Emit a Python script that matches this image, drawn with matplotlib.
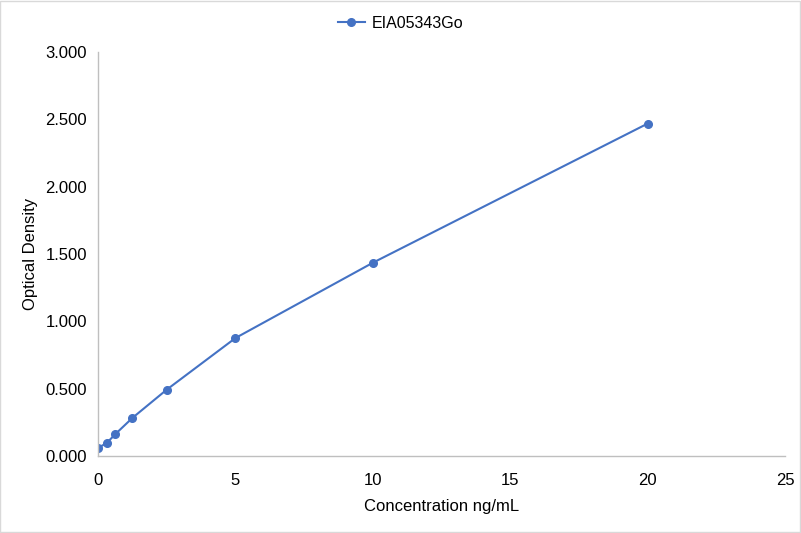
import matplotlib
matplotlib.use("Agg")
import matplotlib.pyplot as plt
from matplotlib.patches import Rectangle

conc = [0, 0.3125, 0.625, 1.25, 2.5, 5, 10, 20]
od = [0.060, 0.096, 0.162, 0.283, 0.493, 0.876, 1.435, 2.468]
series_name = "EIA05343Go"
x_ticks = [0, 5, 10, 15, 20, 25]
y_ticks = [0.0, 0.5, 1.0, 1.5, 2.0, 2.5, 3.0]

plt.rcParams['font.family'] = ['Liberation Sans', 'DejaVu Sans']
fig = plt.figure(figsize=(8.01, 5.33), dpi=100)
fig.patches.append(Rectangle((0.0006, 0.001), 0.9985, 0.997, transform=fig.transFigure,
                             fill=False, edgecolor='#D9D9D9', lw=1))
ax = fig.add_axes([0.1225, 0.1445, 0.8575, 0.758])
color = '#4472C4'
ax.plot(conc, od, color=color, lw=1.5, marker='o', ms=5.5, label=series_name)
ax.set_xlim(0, 25)
ax.set_ylim(0, 3)
ax.set_xticks(x_ticks)
ax.set_yticks(y_ticks)
ax.set_yticklabels([f"{v:.3f}" for v in y_ticks])
for s in ['top', 'right']:
    ax.spines[s].set_visible(False)
for s in ['left', 'bottom']:
    ax.spines[s].set_color('#BFBFBF')
    ax.spines[s].set_linewidth(1)
ax.tick_params(length=0, labelsize=12, colors='#000000')
ax.tick_params(axis='x', pad=12)
ax.tick_params(axis='y', pad=8)
ax.set_xlabel("Concentration ng/mL", fontsize=12, labelpad=8.5)
ax.set_ylabel("Optical Density", fontsize=12, labelpad=5)
fig.legend(handles=ax.get_lines(), loc='center', bbox_to_anchor=(0.5, 1 - 23 / 533),
           frameon=False, fontsize=11.5, handlelength=1.7, handletextpad=0.45)
fig.savefig("out.png", dpi=100)
